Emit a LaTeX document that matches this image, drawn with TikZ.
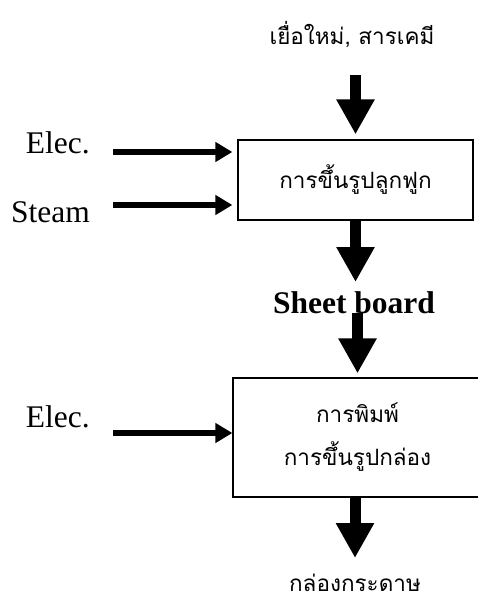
\documentclass[tikz,border=0pt]{standalone}
\usepackage{fontspec}
\setmainfont{Liberation Serif}
\newfontfamily\thaifont[Script=Thai]{Loma}
\usetikzlibrary{arrows.meta}
\tikzset{
  thaitext/.style={font=\thaifont\fontsize{22.5}{30}\selectfont, inner sep=0pt},
  latintext/.style={font=\fontsize{31.5}{36}\selectfont, inner sep=0pt},
  procbox/.style={draw, line width=1.2pt, inner sep=0pt},
  flowarrow/.style={line width=11pt, -{Triangle[length=35pt,width=36pt]}},
  feedarrow/.style={line width=6.5pt, -{Triangle[length=17pt,width=19pt]}},
}
\begin{document}
\begin{tikzpicture}[x=1pt,y=-1pt]
  \useasboundingbox (0,0) rectangle (478,601);
  \clip (0,0) rectangle (478,601);

  % material in
  \node[thaitext] (raw) at (352,35) {เยื่อใหม่, สารเคมี};

  % corrugating stage
  \node[procbox, minimum width=235pt, minimum height=80pt, thaitext] (corr) at (355.5,180) {การขึ้นรูปลูกฟูก};

  % utilities into the corrugator
  \node[latintext, anchor=east] (elecA) at (90,143) {Elec.};
  \node[latintext, anchor=east] (steam) at (90,212) {Steam};

  % intermediate product
  \node[latintext, font=\fontsize{31.5}{36}\selectfont\bfseries] (sheet) at (354,303) {Sheet board};

  % printing and box forming stage
  \node[procbox, minimum width=249pt, minimum height=119pt, thaitext, align=center] (print) at (357.5,437.5)
    {การพิมพ์\\[13pt]การขึ้นรูปกล่อง};
  \node[latintext, anchor=east] (elecB) at (90,417) {Elec.};

  % finished product
  \node[thaitext] (carton) at (355,583) {กล่องกระดาษ};

  % start points of the connectors
  \coordinate (rawout) at ([yshift=-40pt]raw.center);
  \coordinate (sheetout) at ([yshift=-10pt]sheet.center);
  \coordinate (eaout) at ([xshift=23pt,yshift=-9pt]elecA.east);
  \coordinate (stout) at ([xshift=23pt,yshift=7pt]steam.east);
  \coordinate (ebout) at ([xshift=23pt,yshift=-16pt]elecB.east);

  % main flow
  \draw[flowarrow, shorten >=5pt] (corr.north |- rawout) -- (corr.north);
  \draw[flowarrow] (corr.south) -- ([yshift=21pt]sheet.center -| corr.south);
  \draw[flowarrow, shorten >=4pt] (print.north |- sheetout) -- (print.north);
  \draw[flowarrow] (carton |- print.south) -- ([yshift=25pt]carton.center);

  % utility feeds
  \draw[feedarrow, shorten >=5pt] (eaout) -- (eaout -| corr.west);
  \draw[feedarrow, shorten >=5pt] (stout) -- (stout -| corr.west);
  \draw[feedarrow] (ebout) -- (ebout -| print.west);
\end{tikzpicture}
\end{document}
